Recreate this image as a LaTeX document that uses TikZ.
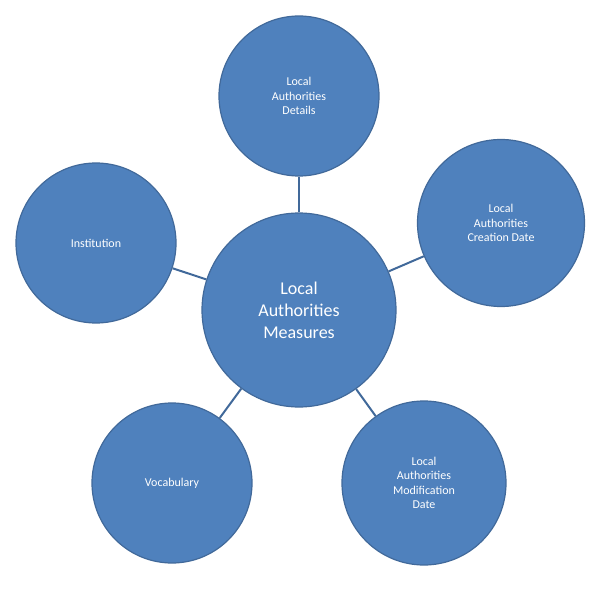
\documentclass[tikz,border=0pt]{standalone}
\usepackage{fontspec}
\setmainfont{Carlito}
\begin{document}
\begin{tikzpicture}[x=1pt,y=-1pt,
  bub/.style={circle,fill=blue1,draw=blue2,line width=1.2pt,text=white,align=center,inner sep=0pt,font=\fontsize{12}{14.5}\selectfont},
  con/.style={draw=blue2,line width=2pt}]
\definecolor{blue1}{HTML}{4F81BD}
\definecolor{blue2}{HTML}{41699A}
\useasboundingbox (0,0) rectangle (603,591);
\node[bub,minimum size=194pt,font=\fontsize{18}{22}\selectfont] (c) at (299,310) {Local\\Authorities\\Measures};
\node[bub,minimum size=160pt] (t) at (299,96) {Local\\Authorities\\Details};
\node[bub,minimum size=167pt] (r) at (501,223) {Local\\Authorities\\Creation Date};
\node[bub,minimum size=160pt] (l) at (96,243) {Institution};
\node[bub,minimum size=160pt] (bl) at (172,483) {Vocabulary};
\node[bub,minimum size=164pt] (br) at (424,483) {Local\\Authorities\\Modification\\Date};
\foreach \n in {t,r,l,bl,br} \draw[con] (c) -- (\n);
\end{tikzpicture}
\end{document}
